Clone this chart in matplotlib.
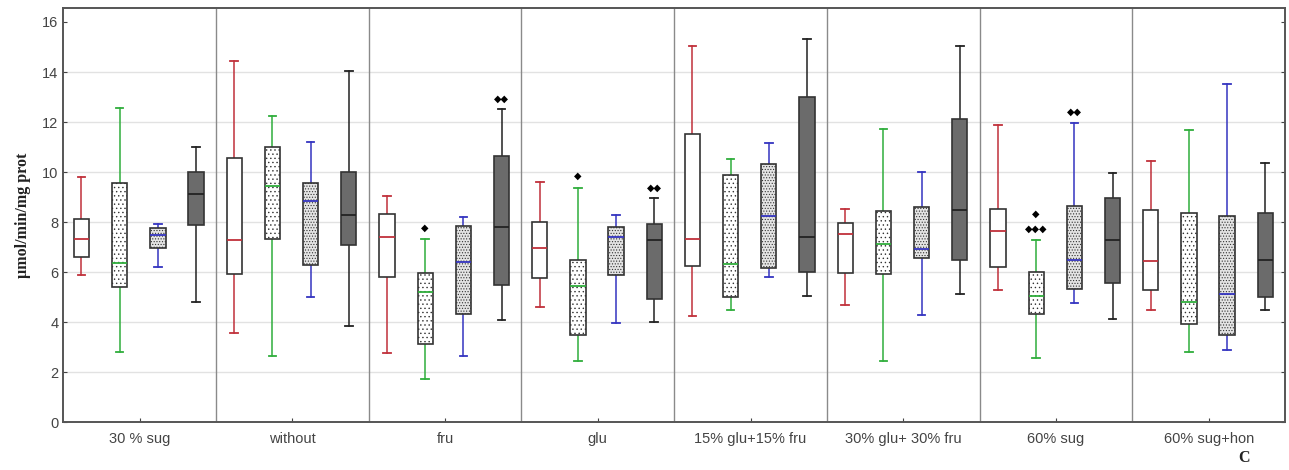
import numpy as np
import matplotlib
matplotlib.use('Agg')
import matplotlib.pyplot as plt

# groups on the x axis
groups = ['30 % sug', 'without', 'fru', 'glu', '15% glu+15% fru',
          '30% glu+ 30% fru', '60% sug', '60% sug+hon']

# per series: [whisker low, q1, median, q3, whisker high] for each group
s_white = [[5.88, 6.59, 7.31, 8.12, 9.81],
           [3.57, 5.91, 7.28, 10.56, 14.44],
           [2.75, 5.81, 7.41, 8.32, 9.05],
           [4.61, 5.77, 6.96, 8.01, 9.59],
           [4.24, 6.25, 7.33, 11.53, 15.05],
           [4.68, 5.96, 7.53, 7.97, 8.51],
           [5.29, 6.21, 7.65, 8.53, 11.89],
           [4.49, 5.28, 6.45, 8.47, 10.44]]
s_dots = [[2.81, 5.39, 6.36, 9.55, 12.57],
          [2.65, 7.31, 9.44, 11.01, 12.24],
          [1.71, 3.12, 5.20, 5.95, 7.31],
          [2.44, 3.48, 5.44, 6.48, 9.37],
          [4.49, 4.99, 6.32, 9.89, 10.52],
          [2.45, 5.91, 7.11, 8.43, 11.72],
          [2.55, 4.31, 5.05, 5.99, 7.28],
          [2.81, 3.91, 4.79, 8.36, 11.68]]
s_dense = [[6.21, 6.96, 7.49, 7.75, 7.91],
           [4.99, 6.27, 8.83, 9.55, 11.20],
           [2.63, 4.32, 6.40, 7.85, 8.20],
           [3.97, 5.88, 7.39, 7.79, 8.28],
           [5.81, 6.15, 8.23, 10.31, 11.15],
           [4.28, 6.56, 6.91, 8.61, 9.99],
           [4.76, 5.33, 6.48, 8.64, 11.97],
           [2.87, 3.49, 5.13, 8.23, 13.51]]
s_dark = [[4.79, 7.89, 9.11, 9.99, 10.99],
          [3.83, 7.07, 8.28, 9.99, 14.04],
          [4.08, 5.49, 7.80, 10.64, 12.53],
          [4.00, 4.91, 7.29, 7.93, 8.97],
          [5.05, 6.01, 7.39, 13.01, 15.31],
          [5.11, 6.47, 8.47, 12.13, 15.05],
          [4.12, 5.57, 7.28, 8.97, 9.95],
          [4.49, 4.99, 6.48, 8.35, 10.37]]

# significance marks: (group, series, y, text)
marks = [(2, 1, 7.77, '◆'), (2, 3, 12.91, '◆◆'),
         (3, 1, 9.84, '◆'), (3, 3, 9.39, '◆◆'),
         (6, 1, 8.33, '◆'), (6, 1, 7.73, '◆◆◆'), (6, 2, 12.39, '◆◆')]

series = [s_white, s_dots, s_dense, s_dark]
wcolors = ['#c0303a', '#2fae3c', '#3434c0', '#222222']
faces = ['white', 'white', '#e4e4e4', '#6b6b6b']
hatches = [None, '....', '......', None]
offsets = [-0.38, -0.13, 0.12, 0.37]

plt.rcParams['hatch.linewidth'] = 0.5
plt.rcParams['hatch.color'] = '#8c8c8c'

fig = plt.figure(figsize=(12.89, 4.70), dpi=100)
ax = fig.add_axes([0.049, 0.102, 0.948, 0.881])

for k in range(4):
    stats = []
    for v in series[k]:
        stats.append({'whislo': v[0], 'q1': v[1], 'med': v[2], 'q3': v[3], 'whishi': v[4]})
    pos = np.arange(len(groups)) + 0.5 + offsets[k]
    bp = ax.bxp(stats, positions=pos, widths=0.1, capwidths=0.05, showfliers=False,
                patch_artist=True, manage_ticks=False,
                boxprops=dict(facecolor=faces[k], edgecolor='#333333', linewidth=1.2),
                medianprops=dict(color=wcolors[k], linewidth=1.3),
                whiskerprops=dict(color=wcolors[k], linewidth=1.1),
                capprops=dict(color=wcolors[k], linewidth=1.3))
    for b in bp['boxes']:
        if hatches[k]:
            b.set_hatch(hatches[k])
        b.set_zorder(3)
    for m in bp['medians']:
        m.set_zorder(4)

for g, k, y, t in marks:
    ax.text(g + 0.5 + offsets[k], y, t, ha='center', va='center', fontsize=7, color='black',
            family='DejaVu Sans')

for i in range(1, len(groups)):
    ax.axvline(i, color='#8a8a8a', linewidth=1.0, zorder=1)

ax.set_xlim(0, len(groups))
ax.set_ylim(0, 16.56)
ax.set_yticks(np.arange(0, 17, 2))
for y in range(2, 16, 2):
    ax.axhline(y, color='#e2e2e2', linewidth=1.0, zorder=0)
ax.set_xticks(np.arange(len(groups)) + 0.5)
ax.set_xticklabels(groups, fontsize=10.5, color='#333333', family='Liberation Sans')
ax.tick_params(axis='y', labelsize=10.5, colors='#444444', direction='in', right=True, length=3)
ax.tick_params(axis='x', direction='in', length=3, colors='#444444', pad=7)
for lab in ax.get_yticklabels():
    lab.set_family('Liberation Sans')
for sp in ax.spines.values():
    sp.set_color('#555555')
    sp.set_linewidth(1.4)

ax.set_ylabel('µmol/min/mg prot', fontsize=11.5, fontweight='bold', family='Liberation Serif',
              color='#222222', labelpad=8)
fig.text(0.965, 0.018, 'C', fontsize=11.5, fontweight='bold', family='Liberation Serif',
         color='#222222', ha='center')

fig.savefig('out.png', dpi=100)
